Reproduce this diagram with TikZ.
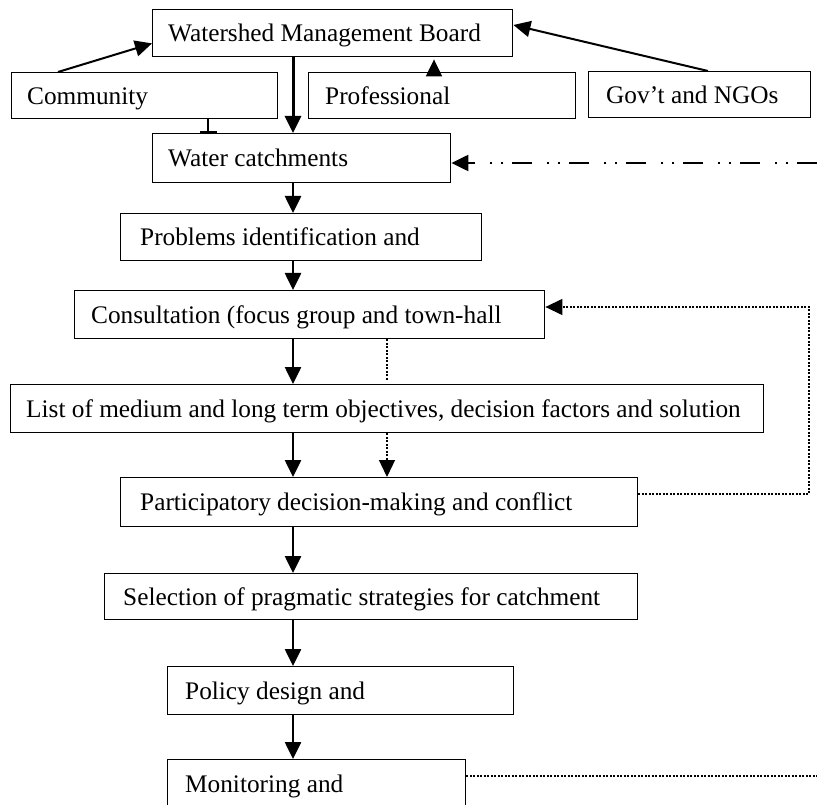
\documentclass[tikz,border=0pt]{standalone}
\usepackage{fontspec}
\setmainfont{Liberation Serif}
\usetikzlibrary{arrows.meta,calc}
\newcommand\mybox[7]{%
  \node[box,minimum width=#4pt,minimum height=#5pt] (#1) at (#2,#3) {};
  \node[txt] (#1-t) at ([xshift=#6pt]#1.west) {#7};}
\begin{document}
\begin{tikzpicture}[x=1pt,y=-1pt,
  box/.style={draw,line width=1.4pt,rectangle,inner sep=0pt,anchor=north west},
  txt/.style={inner sep=0pt,anchor=west,font=\fontsize{25.3}{30}\selectfont,text height=16.7pt,text depth=0pt},
  tip/.style={-{Triangle[length=17pt,width=16pt]}},
  mainarr/.style={tip,line width=2.6pt},
  thinarr/.style={tip,line width=2pt},
  dotline/.style={line width=1.3pt,dash pattern=on 2pt off 1.5pt},
  dddline/.style={line width=2.2pt,dash pattern=on 20pt off 9pt on 2pt off 9pt on 2pt off 15pt},
]
\useasboundingbox (0,0) rectangle (817,805);
\clip (0,0) rectangle (817,805);
\fill[white] (0,0) rectangle (817,805);

\mybox{board}{152}{9}{360}{47}{16}{Watershed Management Board}
\mybox{community}{11}{72}{266}{46}{16}{Community}
\mybox{prof}{308}{72}{267}{46}{17}{Professional}
\mybox{gov}{588}{71}{222}{46}{18}{Gov’t and NGOs}
\mybox{water}{152}{133}{298}{49}{16}{Water catchments}
\mybox{problems}{120}{213}{361}{47}{20}{Problems identification and}
\mybox{consult}{74}{290}{470}{48}{17}{Consultation (focus group and town-hall}
\mybox{list}{10}{384}{753}{48}{16}{List of medium and long term objectives, decision factors and solution}
\mybox{part}{120}{477}{517}{49}{20}{Participatory decision-making and conflict}
\mybox{sel}{104}{573}{533}{46}{19}{Selection of pragmatic strategies for catchment}
\mybox{policy}{167}{666}{346}{48}{18}{Policy design and}
\mybox{monitor}{167}{759}{298}{48}{18}{Monitoring and}

\coordinate (spine) at (293,0);
\coordinate (dx) at (387,0);
\coordinate (fbR) at (809,0);
\coordinate (ddR) at (817,163);
\coordinate (monR) at (817,776);
\coordinate (cb) at ($(community.north west)+(47,0)$);
\coordinate (gb) at ($(gov.north west)+(120,0)$);
\coordinate (pp) at ($(prof.north west)+(126,0)$);
\coordinate (cw) at ($(community.south west)+(197,0)$);

% top connectors
\draw[mainarr,line width=3pt] (board.south -| spine) -- (water.north -| spine);
\draw[thinarr] (cb) -- ($(board.south west)+(0,-14)$);
\draw[thinarr] (gb) -- ($(board.north east)+(0,16)$);
\draw[thinarr,shorten >=2pt] (pp) -- (pp |- board.south);
\draw[line width=1.6pt,-{Bar[width=17pt,line width=1.6pt]}] (cw) -- (cw |- water.north);
\draw[dddline,tip] (ddR) -- (ddR -| water.east);

% main chain
\draw[mainarr] (water.south -| spine) -- (problems.north -| spine);
\draw[mainarr] (problems.south -| spine) -- (consult.north -| spine);
\draw[mainarr] (consult.south -| spine) -- (list.north -| spine);
\draw[mainarr] (list.south -| spine) -- (part.north -| spine);
\draw[mainarr] (part.south -| spine) -- (sel.north -| spine);
\draw[mainarr] (sel.south -| spine) -- (policy.north -| spine);
\draw[mainarr] (policy.south -| spine) -- (monitor.north -| spine);

% dotted links
\draw[dotline,shorten >=3pt] (consult.south -| dx) -- (list.north -| dx);
\draw[dotline,tip] (list.south -| dx) -- (part.north -| dx);
\draw[dotline,tip] (part.east |- 0,494) -- (fbR |- 0,494) -- (fbR |- 0,307) -- (consult.east |- 0,307);
\draw[dotline] (monitor.east |- monR) -- (monR);
\end{tikzpicture}
\end{document}
